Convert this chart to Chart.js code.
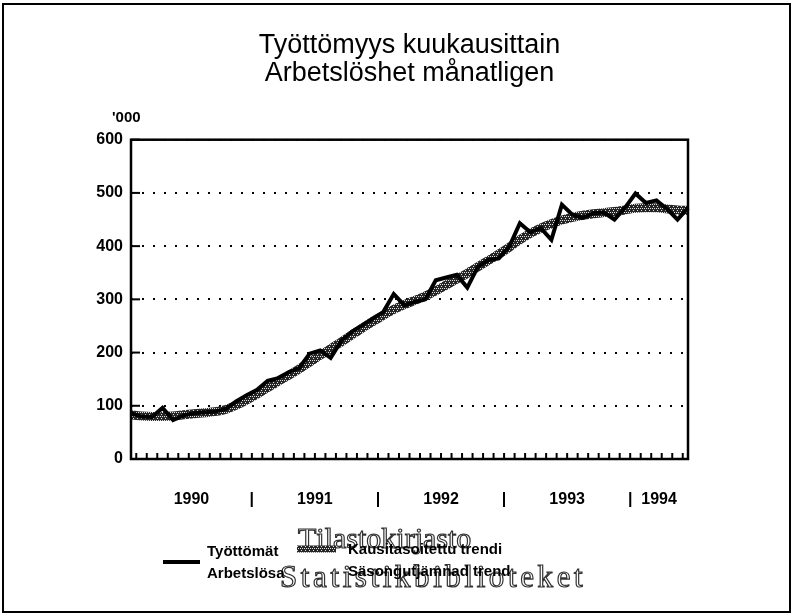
<!DOCTYPE html>
<html>
<head>
<meta charset="utf-8">
<script src="https://cdn.jsdelivr.net/npm/chart.js@4.4.1/dist/chart.umd.min.js"></script>
<style>
  html, body { margin: 0; padding: 0; background: #fff; }
  #wrap { width: 794px; height: 616px; }
</style>
</head>
<body>
<div id="wrap"><canvas id="chart" width="794" height="616"></canvas></div>
<script>
// --- data ('000 henkeä), monthly 1/1990 - 6/1994 ---
const years = ['1990', '1991', '1992', '1993', '1994'];
const monthsPerYear = [12, 12, 12, 12, 6];
const months = [];
years.forEach((y, i) => {
    for (let m = 1; m <= monthsPerYear[i]; m++) months.push(y + '-' + String(m).padStart(2, '0'));
});

const tyottomat = [86, 80, 79, 96, 73, 82, 86, 88, 89, 94,
    108, 120, 130, 147, 152, 163, 171, 198, 204, 190,
    222, 239, 251, 264, 276, 310, 289, 295, 300, 336,
    341, 346, 322, 361, 374, 377, 399, 443, 426, 434,
    412, 478, 459, 453, 462, 463, 450, 472, 499, 481,
    486, 470, 450, 472];

const trendi = [83, 81, 80, 80, 81, 83, 85, 87, 89, 93,
    101, 111, 122, 134, 146, 157, 169, 182, 195, 207,
    220, 233, 246, 258, 270, 281, 290, 298, 306, 316,
    327, 338, 349, 361, 373, 385, 398, 412, 424, 434,
    442, 449, 454, 458, 461, 463, 465, 468, 471, 472,
    472, 470, 468, 467];

const yTicks = [0, 100, 200, 300, 400, 500, 600];
const titleLines = ['Työttömyys kuukausittain', 'Arbetslöshet månatligen'];
const legendLines = [['Työttömät', 'Arbetslösa'], ['Kausitasoitettu trendi', 'Säsongutjämnad trend']];
const stampLines = ['Tilastokirjasto', 'Statistikbiblioteket'];

// year labels in the middle of each year, '|' between years
const last = months.length - 1;
const xTickPos = [];
const xTickText = [];
let start = 0;
years.forEach((y, i) => {
    const end = start + monthsPerYear[i];
    const from = Math.max(start - 0.5, 0), to = Math.min(end - 0.5, last);
    if (i > 0) { xTickPos.push(start - 0.5); xTickText.push('|'); }
    xTickPos.push((from + to) / 2); xTickText.push(y);
    start = end;
});

const FONT = "'Liberation Sans', Arial, sans-serif";
const SERIF = "'Liberation Serif', 'DejaVu Serif', serif";
const canvas = document.getElementById('chart');
const ctx = canvas.getContext('2d');

// stippled band for the trend line
function stipple() {
    const c = document.createElement('canvas');
    c.width = 4; c.height = 4;
    const g = c.getContext('2d');
    g.fillStyle = '#262626';
    g.fillRect(0, 0, 4, 4);
    g.fillStyle = '#e0e0e0';
    g.fillRect(0, 0, 1, 1);
    g.fillRect(2, 0, 1, 1);
    g.fillRect(1, 2, 1, 1);
    return ctx.createPattern(c, 'repeat');
}
const trendPattern = stipple();

// outlined text with extra space between letters
function spacedOutline(c, text, x, y, gap) {
    for (const ch of text) {
        c.strokeText(ch, x, y);
        x += c.measureText(ch).width + gap;
    }
}

const decorations = {
    id: 'decorations',
    beforeDraw(chart) {
        const c = chart.ctx;
        c.save();
        c.fillStyle = '#fff';
        c.fillRect(0, 0, chart.width, chart.height);
        c.restore();
    },
    afterDraw(chart) {
        const c = chart.ctx;
        const a = chart.chartArea;
        const x = chart.scales.x, y = chart.scales.y;
        c.save();
        c.strokeStyle = '#000';
        c.fillStyle = '#000';

        // plot box
        c.lineWidth = 2.5;
        c.strokeRect(a.left, a.top, a.right - a.left, a.bottom - a.top);

        // inward tick marks
        c.lineWidth = 2;
        y.ticks.forEach(t => {
            const py = y.getPixelForValue(t.value);
            c.beginPath(); c.moveTo(a.left, py); c.lineTo(a.left + 9, py); c.stroke();
        });
        for (let k = 0; k < last; k++) {
            const px = (x.getPixelForValue(k) + x.getPixelForValue(k + 1)) / 2;
            c.beginPath(); c.moveTo(px, a.bottom); c.lineTo(px, a.bottom - 6); c.stroke();
        }

        // unit
        c.font = 'bold 15px ' + FONT;
        c.textBaseline = 'middle';
        c.textAlign = 'left';
        c.fillText("'000", a.left - 19, a.top - 22);

        // library stamp
        c.lineWidth = 1.2;
        c.strokeStyle = '#333';
        c.font = '30px ' + SERIF;
        spacedOutline(c, stampLines[0], 298, 540, 0);
        c.font = '31px ' + SERIF;
        spacedOutline(c, stampLines[1], 280, 579, 3.6);

        // legend
        c.strokeStyle = '#000';
        c.lineWidth = 4;
        c.beginPath(); c.moveTo(163, 562); c.lineTo(200, 562); c.stroke();
        c.strokeStyle = trendPattern;
        c.lineWidth = 7;
        c.beginPath(); c.moveTo(297, 549); c.lineTo(336, 549); c.stroke();

        c.font = 'bold 15px ' + FONT;
        c.fillStyle = '#000';
        c.fillText(legendLines[0][0], 207, 552);
        c.fillText(legendLines[0][1], 207, 574);
        c.fillText(legendLines[1][0], 348, 550);
        c.fillText(legendLines[1][1], 348, 572);

        // outer frame
        c.lineWidth = 2;
        c.strokeStyle = '#000';
        c.strokeRect(3, 4, 787, 608);
        c.restore();
    }
};

new Chart(ctx, {
    type: 'line',
    data: {
        labels: months,
        datasets: [{
            label: legendLines[0].join(' / '),
            data: tyottomat,
            borderColor: '#000',
            borderWidth: 4,
            pointRadius: 0,
            tension: 0
        }, {
            label: legendLines[1].join(' / '),
            data: trendi,
            borderColor: trendPattern,
            borderWidth: 9,
            pointRadius: 0,
            tension: 0.3
        }]
    },
    options: {
        responsive: false,
        animation: false,
        devicePixelRatio: 1,
        layout: { padding: { left: 0, right: 106, top: 0, bottom: 0 } },
        plugins: {
            legend: { display: false },
            tooltip: { enabled: false },
            title: {
                display: true,
                fullSize: false,
                text: titleLines,
                color: '#000',
                font: { family: FONT, size: 27, weight: 'normal', lineHeight: 1.05 },
                padding: { top: 31, bottom: 52 }
            }
        },
        scales: {
            x: { type: 'category', display: false },
            x2: {
                type: 'linear',
                position: 'bottom',
                min: 0,
                max: last,
                grid: { display: false },
                border: { display: false },
                afterBuildTicks(scale) { scale.ticks = xTickPos.map(v => ({ value: v })); },
                afterFit(scale) { scale.height = 157; },
                ticks: {
                    autoSkip: false,
                    maxRotation: 0,
                    padding: 23,
                    color: '#000',
                    font: { family: FONT, size: 16, weight: 'bold' },
                    callback: (v, i) => xTickText[i]
                }
            },
            y: {
                min: 0,
                max: 600,
                afterBuildTicks(scale) { scale.ticks = yTicks.map(v => ({ value: v })); },
                afterFit(scale) { scale.width = 131; },
                grid: { color: '#000', lineWidth: 2, drawTicks: false },
                border: { display: false, dash: [2, 9] },
                ticks: {
                    padding: 8,
                    color: '#000',
                    font: { family: FONT, size: 16, weight: 'bold' }
                }
            }
        }
    },
    plugins: [decorations]
});
</script>
</body>
</html>
